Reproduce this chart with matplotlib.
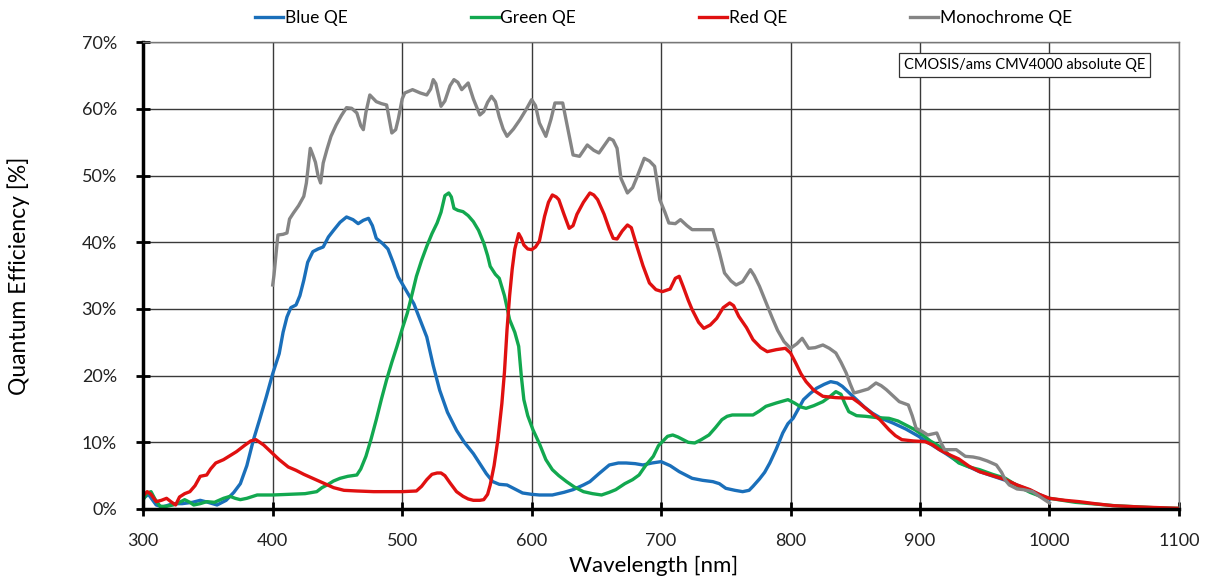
import matplotlib
matplotlib.use("Agg")
import matplotlib.pyplot as plt
from matplotlib.ticker import FuncFormatter

plt.rcParams['font.family'] = ['Lato', 'DejaVu Sans']

# --- data (wavelength nm, QE %) ---
blue_nm = [300, 304, 310, 315, 323, 330, 338, 344, 350, 357, 364, 370, 375, 380, 385, 390, 395,
           400, 405, 408, 411, 414, 418, 421, 424, 427, 431, 435, 439, 443, 447, 452, 457, 462,
           466, 470, 474, 477, 480, 485, 489, 493, 497, 503, 509, 514, 519, 524, 529, 535, 542,
           548, 555, 560, 565, 570, 575, 581, 587, 593, 600, 606, 616, 625, 632, 640, 645, 652,
           660, 667, 673, 680, 686, 693, 700, 707, 714, 720, 724, 732, 740, 745, 750, 757, 763,
           768, 771, 776, 780, 784, 789, 794, 798, 802, 806, 810, 815, 820, 826, 831, 836, 840,
           846, 851, 857, 863, 870, 879, 889, 899, 910, 920, 930, 946, 966, 985, 1000]
blue_qe = [1.6, 2.2, 0.6, 0.3, 0.8, 0.8, 1.0, 1.3, 1.0, 0.6, 1.3, 2.5, 3.8, 6.5, 10.3, 13.5, 16.8,
           20.3, 23.3, 26.5, 28.8, 30.2, 30.6, 32.0, 34.3, 37.0, 38.6, 39.0, 39.3, 40.8, 41.8, 43.0,
           43.8, 43.4, 42.8, 43.3, 43.6, 42.5, 40.6, 39.8, 39.0, 37.0, 34.8, 32.8, 30.8, 28.3, 25.8,
           21.5, 17.8, 14.5, 11.8, 10.0, 8.3, 6.8, 5.3, 4.1, 3.7, 3.6, 3.0, 2.4, 2.2, 2.1, 2.1, 2.5,
           2.9, 3.6, 4.1, 5.3, 6.6, 6.9, 6.9, 6.8, 6.6, 6.9, 7.1, 6.5, 5.6, 5.0, 4.6, 4.3, 4.1, 3.8,
           3.1, 2.8, 2.6, 2.8, 3.4, 4.5, 5.5, 6.9, 9.0, 11.4, 12.8, 13.6, 15.0, 16.4, 17.3, 18.1,
           18.7, 19.1, 18.9, 18.4, 17.3, 16.4, 15.3, 14.4, 13.6, 12.9, 12.0, 10.9, 9.5, 8.3, 7.0,
           5.6, 4.3, 2.8, 1.5]

green_nm = [300, 303, 306, 309, 313, 318, 323, 328, 332, 336, 339, 344, 349, 355, 362, 367, 371,
            375, 380, 388, 400, 413, 425, 434, 438, 442, 447, 452, 458, 465, 468, 472, 476, 480,
            484, 488, 492, 496, 500, 504, 508, 511, 515, 519, 523, 527, 530, 533, 536, 538, 540,
            543, 547, 551, 555, 559, 563, 566, 568, 572, 575, 579, 583, 587, 590, 592, 594, 597,
            601, 606, 611, 616, 621, 627, 633, 640, 647, 654, 660, 665, 672, 678, 683, 688, 694,
            698, 701, 705, 709, 713, 717, 721, 726, 731, 737, 742, 747, 751, 755, 763, 771, 776,
            781, 789, 798, 803, 808, 812, 818, 825, 830, 835, 839, 842, 845, 851, 858, 867, 876,
            883, 889, 896, 902, 908, 915, 922, 930, 938, 946, 956, 966, 975, 985, 993, 1000, 1020,
            1050, 1080, 1100]
green_qe = [1.4, 2.4, 2.6, 1.5, 0.4, 0.4, 0.6, 1.0, 1.4, 1.0, 0.6, 0.8, 1.1, 1.0, 1.6, 1.9, 1.6,
            1.4, 1.6, 2.1, 2.1, 2.2, 2.3, 2.6, 3.2, 3.6, 4.2, 4.6, 4.9, 5.1, 6.0, 7.9, 10.5, 13.4,
            16.5, 19.4, 22.0, 24.4, 27.0, 29.4, 32.5, 34.9, 37.3, 39.4, 41.3, 42.9, 44.5, 47.0,
            47.4, 46.8, 45.1, 44.8, 44.6, 44.0, 43.1, 41.8, 39.9, 38.0, 36.4, 35.2, 34.6, 32.0,
            28.4, 26.5, 24.4, 20.0, 16.4, 14.0, 11.9, 9.8, 7.4, 5.9, 5.0, 4.1, 3.3, 2.6, 2.3, 2.1,
            2.5, 2.9, 3.8, 4.4, 5.1, 6.5, 7.9, 9.5, 10.1, 10.9, 11.1, 10.8, 10.4, 10.0, 9.9, 10.4,
            11.1, 12.2, 13.4, 13.9, 14.1, 14.1, 14.1, 14.7, 15.4, 15.9, 16.4, 15.9, 15.3, 15.1,
            15.5, 16.1, 16.8, 17.6, 17.2, 15.8, 14.6, 14.0, 13.9, 13.7, 13.6, 13.2, 12.6, 11.9,
            11.1, 10.2, 9.4, 8.2, 6.9, 6.3, 5.9, 5.2, 4.6, 3.5, 2.5, 1.9, 1.6, 1.0, 0.5, 0.2, 0.1]

red_nm = [300, 303, 306, 310, 314, 318, 322, 325, 328, 332, 336, 340, 344, 349, 352, 356, 362,
          367, 372, 378, 383, 387, 393, 399, 405, 412, 418, 424, 431, 439, 447, 455, 465, 478,
          490, 500, 511, 515, 519, 523, 527, 530, 533, 537, 542, 547, 551, 555, 560, 563, 566,
          568, 571, 574, 577, 579, 581, 583, 585, 587, 590, 592, 594, 597, 600, 603, 606, 610,
          613, 616, 619, 621, 625, 629, 632, 635, 640, 645, 648, 651, 656, 660, 663, 666, 670,
          674, 677, 681, 686, 691, 696, 701, 707, 711, 714, 717, 721, 724, 729, 733, 738, 743,
          748, 753, 756, 760, 766, 771, 777, 782, 789, 796, 800, 804, 808, 812, 818, 825, 835,
          848, 853, 858, 863, 869, 876, 881, 886, 895, 904, 910, 915, 922, 930, 938, 946, 956,
          966, 975, 985, 992, 1000, 1012, 1023, 1035, 1049, 1070, 1085, 1100]
red_qe = [2.0, 2.6, 2.2, 1.1, 1.3, 1.6, 1.0, 0.6, 1.8, 2.3, 2.6, 3.5, 4.9, 5.1, 6.0, 6.9, 7.4,
          8.0, 8.6, 9.5, 10.2, 10.4, 9.6, 8.5, 7.4, 6.3, 5.8, 5.2, 4.6, 3.9, 3.2, 2.8, 2.7, 2.6,
          2.6, 2.6, 2.7, 3.4, 4.4, 5.2, 5.4, 5.4, 5.0, 3.9, 2.6, 1.9, 1.5, 1.3, 1.3, 1.4, 2.2,
          3.6, 6.5, 10.5, 15.8, 20.5, 26.9, 32.0, 36.0, 39.0, 41.3, 40.6, 39.6, 39.0, 38.9, 39.3,
          40.2, 43.9, 46.0, 47.1, 46.8, 46.4, 44.2, 42.1, 42.5, 44.2, 46.0, 47.4, 47.1, 46.4,
          44.2, 42.0, 40.6, 40.5, 41.7, 42.6, 42.2, 39.6, 36.5, 33.9, 32.9, 32.6, 33.0, 34.6,
          34.9, 33.4, 31.3, 29.9, 28.0, 27.1, 27.6, 28.6, 30.2, 30.9, 30.5, 28.9, 27.2, 25.4,
          24.2, 23.6, 23.9, 24.1, 23.4, 21.9, 20.3, 19.1, 17.8, 16.9, 16.7, 16.6, 15.9, 15.1,
          14.3, 13.4, 11.9, 11.0, 10.4, 10.2, 10.1, 9.6, 8.9, 8.2, 7.5, 6.4, 5.6, 5.0, 4.4, 3.6,
          2.9, 2.2, 1.6, 1.3, 1.1, 0.8, 0.5, 0.3, 0.2, 0.1]

mono_nm = [400, 401, 403, 404, 408, 411, 413, 416, 420, 424, 426, 429, 431, 433, 435, 437, 439,
           442, 445, 449, 453, 457, 461, 465, 468, 470, 472, 475, 478, 480, 484, 488, 490, 492,
           495, 497, 500, 502, 508, 514, 519, 522, 524, 526, 530, 533, 537, 540, 543, 546, 549,
           551, 555, 560, 563, 566, 569, 572, 575, 578, 581, 586, 591, 596, 600, 603, 606, 611,
           615, 618, 624, 628, 632, 637, 643, 648, 652, 656, 660, 663, 666, 669, 674, 678, 681,
           687, 691, 695, 697, 699, 703, 706, 711, 715, 720, 724, 740, 745, 749, 754, 758, 763,
           769, 772, 776, 781, 786, 790, 795, 800, 805, 809, 814, 819, 825, 830, 835, 839, 843,
           846, 849, 853, 860, 866, 870, 874, 879, 884, 891, 894, 897, 902, 906, 913, 916, 919,
           923, 928, 935, 941, 946, 952, 959, 963, 966, 969, 975, 980, 987, 993, 1000]
mono_qe = [33.6, 35.1, 39.0, 41.1, 41.2, 41.4, 43.5, 44.4, 45.5, 46.9, 48.9, 54.1, 53.1, 52.0,
           50.0, 48.9, 51.9, 54.0, 55.9, 57.6, 59.0, 60.2, 60.1, 59.4, 57.5, 56.9, 59.5, 62.1,
           61.5, 61.1, 60.8, 60.6, 58.5, 56.4, 56.9, 58.5, 61.5, 62.4, 62.9, 62.4, 62.1, 63.0,
           64.4, 63.8, 60.4, 61.2, 63.5, 64.4, 64.0, 62.9, 63.5, 63.9, 61.5, 59.1, 59.6, 61.0,
           61.9, 61.1, 58.8, 57.0, 55.9, 57.0, 58.4, 60.0, 61.4, 60.5, 57.9, 55.9, 58.5, 60.9,
           60.9, 57.0, 53.1, 52.9, 54.6, 53.8, 53.4, 54.5, 55.6, 55.3, 54.1, 49.6, 47.4, 48.2,
           49.6, 52.6, 52.2, 51.4, 49.0, 46.4, 44.5, 42.9, 42.8, 43.4, 42.5, 41.9, 41.9, 38.5,
           35.4, 34.2, 33.6, 34.1, 35.9, 35.0, 33.4, 31.0, 28.6, 26.8, 25.1, 24.1, 24.8, 25.6,
           24.1, 24.2, 24.6, 24.1, 23.4, 22.0, 20.4, 18.8, 17.4, 17.6, 18.0, 18.9, 18.5, 17.9,
           17.0, 16.1, 15.6, 14.0, 12.1, 11.6, 11.1, 11.4, 10.0, 8.9, 8.9, 8.9, 7.9, 7.8, 7.6,
           7.2, 6.6, 5.5, 4.3, 3.6, 3.0, 2.9, 2.6, 1.8, 0.9]

series_names = ["Blue QE", "Green QE", "Red QE", "Monochrome QE"]
series_colors = ["#1a6fba", "#12a84f", "#e01010", "#858585"]

fig = plt.figure(figsize=(12.09, 5.78), dpi=100)
ax = fig.add_axes([0.1185, 0.1194, 0.8566, 0.8074])

data = [(blue_nm, blue_qe), (green_nm, green_qe), (red_nm, red_qe), (mono_nm, mono_qe)]
for (x, y), name, col in zip(data, series_names, series_colors):
    ax.plot(x, [v / 100 for v in y], color=col, lw=2.4, label=name, solid_joinstyle='round')

ax.set_xlim(300, 1100)
ax.set_ylim(0, 0.70)
ax.set_xticks(range(300, 1101, 100))
ax.set_yticks([i / 10 for i in range(8)])
ax.yaxis.set_major_formatter(FuncFormatter(lambda v, p: "%d%%" % round(v * 100)))
ax.grid(True, color="#3a3a3a", lw=1.0)
ax.set_axisbelow(True)

for s in ["left", "bottom"]:
    ax.spines[s].set_linewidth(2.5)
    ax.spines[s].set_color("black")
for s in ["top", "right"]:
    ax.spines[s].set_linewidth(1.0)
    ax.spines[s].set_color("#777777")
ax.tick_params(axis="both", direction="inout", length=10, width=2, labelsize=13,
               colors="black", labelcolor="#222222")
ax.tick_params(axis="y", pad=14)
ax.tick_params(axis="x", pad=12)

ax.set_xlabel("Wavelength [nm]", fontsize=16)
ax.set_ylabel("Quantum Efficiency [%]", fontsize=16.5)
ax.xaxis.set_label_coords(0.493, -0.10)
ax.yaxis.set_label_coords(-0.109, 0.5)

ax.text(0.851, 0.951, "CMOSIS/ams CMV4000 absolute QE", transform=ax.transAxes,
        ha="center", va="center", fontsize=10.5,
        bbox=dict(boxstyle="square,pad=0.35", fc="white", ec="#333333", lw=0.9))

fig.legend(loc="center", bbox_to_anchor=(0.549, 0.968), ncol=4, frameon=False,
           fontsize=12.5, handlelength=1.6, handletextpad=0.1, columnspacing=7.1)

fig.savefig("out.png", dpi=100)
